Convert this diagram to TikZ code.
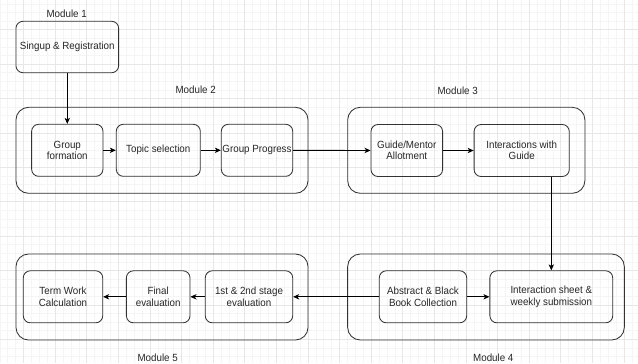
\documentclass[tikz,border=0pt]{standalone}
\usepackage{fontspec}
\setmainfont{Liberation Sans}[FakeStretch=0.94]
\usetikzlibrary{arrows.meta}
\definecolor{gridminor}{HTML}{F5F5F5}
\definecolor{gridmajor}{HTML}{E7E7E7}
\definecolor{linegray}{HTML}{333333}
\tikzset{
	box/.style={draw=linegray, line width=0.6pt, rounded corners=5pt, align=center, inner sep=0pt, minimum height=1.3cm, text=black!85},
	module/.style={draw=linegray, line width=0.6pt, rounded corners=9pt, inner sep=0pt, minimum height=2.15cm},
	modlabel/.style={inner sep=0pt, text=black!85},
	arr/.style={-{Stealth[length=4.3pt,width=3.8pt,inset=1.2pt]}, line width=0.6pt, black}
}
\begin{document}
\begin{tikzpicture}[x=0.025cm, y=-0.025cm, font=\fontsize{7.4pt}{8pt}\selectfont]
		\useasboundingbox (0,0) rectangle (638,363);
		\foreach \i in {-3,...,78} \draw[gridminor, line width=0.4pt] ({23.5+7.9*\i},0) -- ({23.5+7.9*\i},363);
		\foreach \i in {-3,...,38} \draw[gridminor, line width=0.4pt] (0,{29.7+8.6*\i}) -- (638,{29.7+8.6*\i});
		\foreach \i in {0,...,19} \draw[gridmajor, line width=0.5pt] ({23.5+31.6*\i},0) -- ({23.5+31.6*\i},363);
		\foreach \i in {0,...,9} \draw[gridmajor, line width=0.5pt] (0,{29.7+34.4*\i}) -- (638,{29.7+34.4*\i});
		% module frames
		\node[module, minimum width=7.3cm] (m2) at (162,150.3) {};
		\node[module, minimum width=5.93cm] (m3) at (466.3,150.3) {};
		\node[module, minimum width=6.915cm] (m4) at (486,297) {};
		\node[module, minimum width=7.3cm] (m5) at (162,297) {};
		\node[modlabel] (l1) at (66.7,13.3) {Module 1};
		\node[modlabel] (l2) at (195.7,90) {Module 2};
		\node[modlabel] (l3) at (457.7,90.7) {Module 3};
		\node[modlabel] (l4) at (493.3,357.3) {Module 4};
		\node[modlabel] (l5) at (157.7,357.3) {Module 5};
		% steps
		\node[box, minimum width=2.5675cm, minimum height=1.285cm] (signup) at (67.3,47) {Singup \& Registration};
		\node[box, minimum width=1.7825cm] (group) at (67.3,150.3) {Group\\formation};
		\node[box, minimum width=2.1cm] (topic) at (158.3,150.3) {Topic selection};
		\node[box, minimum width=1.785cm] (progress) at (257,150.3) {Group Progress};
		\node[box, minimum width=1.79cm] (guide) at (406.8,150.5) {Guide/Mentor\\Allotment};
		\node[box, minimum width=2.38cm] (inter) at (521.7,150.5) {Interactions with\\Guide};
		\node[box, minimum width=2.185cm] (abstract) at (423,296.8) {Abstract \& Black\\Book Collection};
		\node[box, minimum width=3.07cm] (sheet) at (551.3,296.8) {Interaction sheet \&\\weekly submission};
		\node[box, minimum width=2.185cm] (stage) at (249,296.8) {1st \& 2nd stage\\evaluation};
		\node[box, minimum width=1.59cm] (final) at (158.2,296.8) {Final\\evaluation};
		\node[box, minimum width=1.985cm] (term) at (63,296.8) {Term Work\\Calculation};
		% flow
		\draw[arr] (signup) -- (group);
		\draw[arr] (group) -- (topic);
		\draw[arr] (topic) -- (progress);
		\draw[arr] (progress) -- (guide);
		\draw[arr] (guide) -- (inter);
		\draw[arr] (sheet.north |- inter.south) -- (sheet.north);
		\draw[arr] (abstract) -- (sheet);
		\draw[arr] (abstract) -- (stage);
		\draw[arr] (stage) -- (final);
		\draw[arr] (final) -- (term);
	\end{tikzpicture}
\end{document}
